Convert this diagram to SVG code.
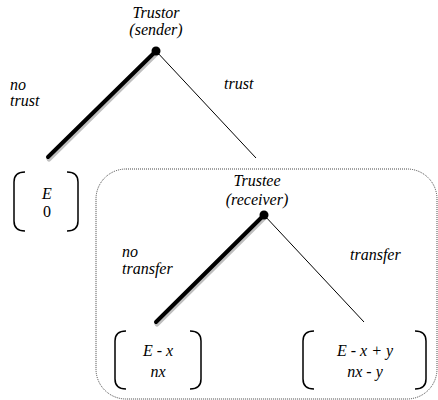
<svg xmlns="http://www.w3.org/2000/svg" width="438" height="400" viewBox="0 0 438 400">
<rect id="subgame" x="96" y="169" width="341" height="230" rx="30" fill="none" stroke="#444" stroke-width="1" stroke-dasharray="1,1"/>
<g id="connectors">
<line x1="157" y1="53" x2="49" y2="159" stroke="#000" stroke-opacity="0.25" stroke-width="5" stroke-linecap="round"/>
<line x1="156" y1="51" x2="48" y2="157" stroke="#000" stroke-width="4" stroke-linecap="round"/>
<line x1="156" y1="51" x2="256" y2="158" stroke="#000" stroke-width="1"/>
<line x1="265" y1="217" x2="157" y2="324" stroke="#000" stroke-opacity="0.25" stroke-width="5" stroke-linecap="round"/>
<line x1="264" y1="215" x2="156" y2="322" stroke="#000" stroke-width="4" stroke-linecap="round"/>
<line x1="264" y1="215" x2="364" y2="322" stroke="#000" stroke-width="1"/>
<text x="10" y="90" style="font-family:'Liberation Serif';font-size:16px;font-style:italic">no</text>
<text x="10" y="106" style="font-family:'Liberation Serif';font-size:16px;font-style:italic">trust</text>
<text x="224" y="89" style="font-family:'Liberation Serif';font-size:16px;font-style:italic">trust</text>
<text x="122" y="257" style="font-family:'Liberation Serif';font-size:16px;font-style:italic">no</text>
<text x="122" y="274" style="font-family:'Liberation Serif';font-size:16px;font-style:italic">transfer</text>
<text x="350" y="260" style="font-family:'Liberation Serif';font-size:16px;font-style:italic">transfer</text>
</g>
<g id="trustor">
<circle cx="156" cy="51" r="4.5" fill="#000"/>
<text x="156" y="18" text-anchor="middle" style="font-family:'Liberation Serif';font-size:16px;font-style:italic">Trustor</text>
<text x="156" y="35" text-anchor="middle" style="font-family:'Liberation Serif';font-size:16px;font-style:italic">(sender)</text>
</g>
<g id="trustee">
<circle cx="264" cy="215" r="4.5" fill="#000"/>
<text x="257" y="186" text-anchor="middle" style="font-family:'Liberation Serif';font-size:16px;font-style:italic">Trustee</text>
<text x="257" y="205" text-anchor="middle" style="font-family:'Liberation Serif';font-size:16px;font-style:italic">(receiver)</text>
</g>
<g id="payoff-notrust" fill="none" stroke="#000" stroke-width="1.5">
<path d="M25,172 Q14,172 14,182 L14,221 Q14,231 25,231"/>
<path d="M67,172 Q78,172 78,182 L78,221 Q78,231 67,231"/>
<text x="47" y="199" text-anchor="middle" fill="#000" stroke="none" style="font-family:'Liberation Serif';font-size:16px;font-style:italic">E</text>
<text x="47" y="217" text-anchor="middle" fill="#000" stroke="none" style="font-family:'Liberation Serif';font-size:16px">0</text>
</g>
<g id="payoff-notransfer" fill="none" stroke="#000" stroke-width="1.5">
<path d="M126,331 Q115,331 115,341 L115,379 Q115,389 126,389"/>
<path d="M190,331 Q201,331 201,341 L201,379 Q201,389 190,389"/>
<text x="158" y="356" text-anchor="middle" fill="#000" stroke="none" style="font-family:'Liberation Serif';font-size:16px;font-style:italic">E - x</text>
<text x="158" y="377" text-anchor="middle" fill="#000" stroke="none" style="font-family:'Liberation Serif';font-size:16px;font-style:italic">nx</text>
</g>
<g id="payoff-transfer" fill="none" stroke="#000" stroke-width="1.5">
<path d="M314,331 Q303,331 303,341 L303,379 Q303,389 314,389"/>
<path d="M415,331 Q426,331 426,341 L426,379 Q426,389 415,389"/>
<text x="365" y="356" text-anchor="middle" fill="#000" stroke="none" style="font-family:'Liberation Serif';font-size:16px;font-style:italic">E - x + y</text>
<text x="365" y="377" text-anchor="middle" fill="#000" stroke="none" style="font-family:'Liberation Serif';font-size:16px;font-style:italic">nx - y</text>
</g>
</svg>
